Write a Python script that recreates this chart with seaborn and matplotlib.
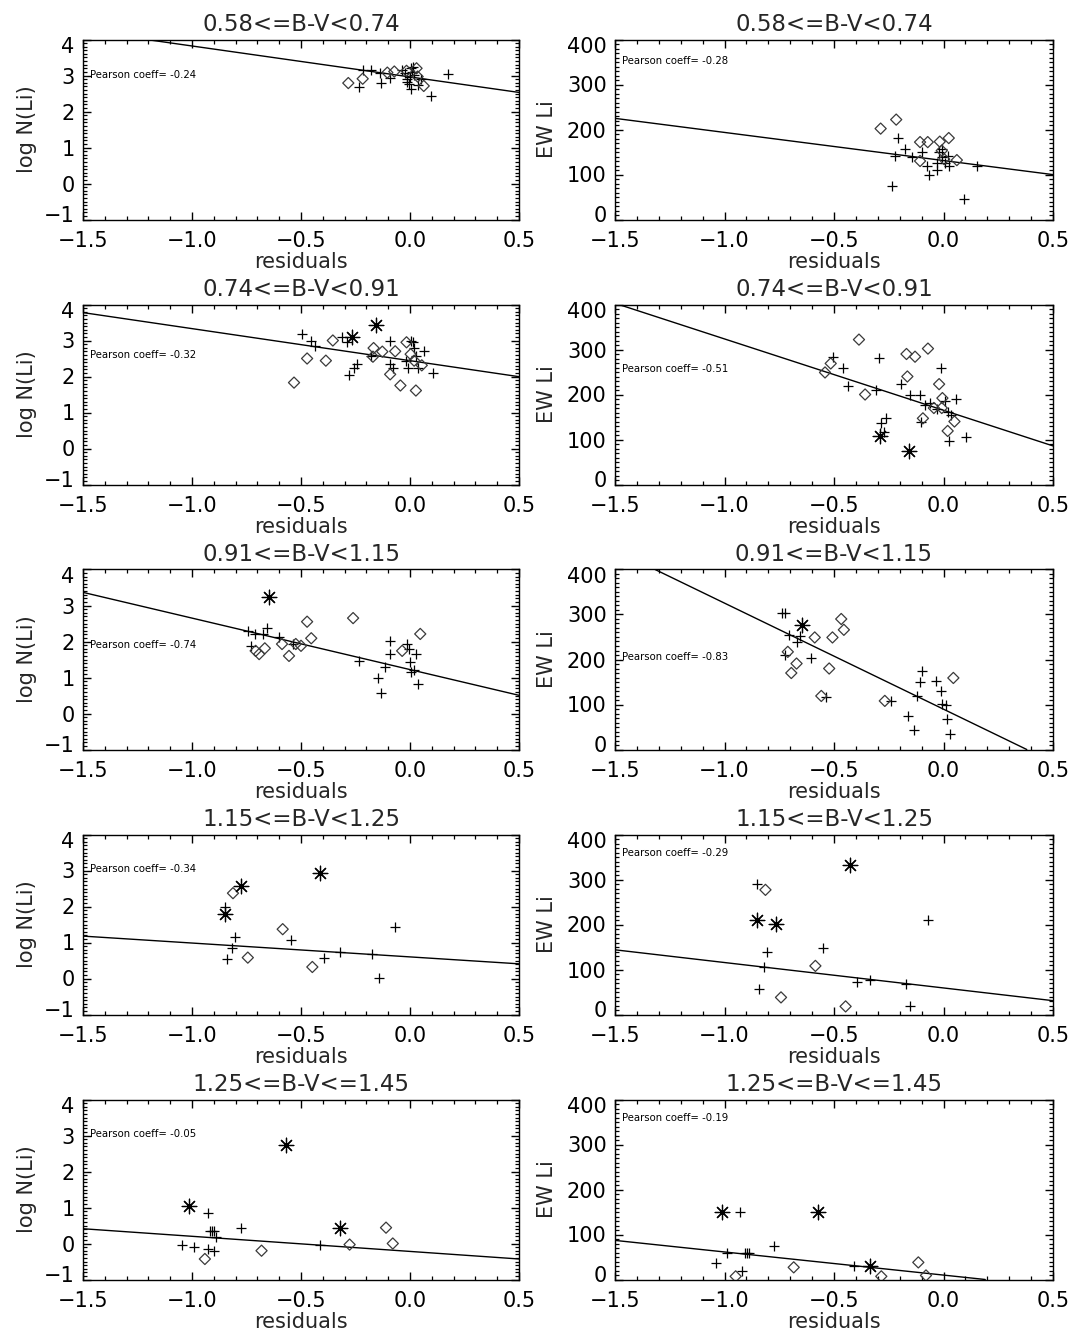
import numpy as np
import pandas as pd
import matplotlib
matplotlib.use("Agg")
import matplotlib.pyplot as plt
import seaborn as sns
from matplotlib.ticker import MultipleLocator
from matplotlib.transforms import ScaledTranslation

# ---------------- data ----------------
bins = ["0.58<=B-V<0.74", "0.74<=B-V<0.91", "0.91<=B-V<1.15",
        "1.15<=B-V<1.25", "1.25<=B-V<=1.45"]

pearson_logn = [-0.24, -0.32, -0.74, -0.34, -0.05]
pearson_ew = [-0.28, -0.51, -0.83, -0.29, -0.19]

fit_logn_intercept = [2.96, 2.44, 1.22, 0.60, -0.22]
fit_logn_slope = [-0.86, -0.89, -1.43, -0.385, -0.42]
fit_ew_intercept = [131.0, 165.0, 89.6, 59.0, 9.8]
fit_ew_slope = [-62.5, -158.5, -235.7, -56.5, -51.4]

logn_ticks = [-1, 0, 1, 2, 3, 4]
ew_ticks = [0, 100, 200, 300, 400]

# bin 1
L1_plus_x = [-0.233, -0.217, -0.178, -0.138, -0.131, -0.091, -0.036, -0.025, -0.013, -0.005,
             0.003, 0.006, 0.016, 0.019, 0.035, 0.050, 0.098, 0.173, -0.016, 0.0, 0.011]
L1_plus_y = [2.69, 3.16, 3.16, 3.06, 2.80, 2.94, 3.16, 3.06, 2.91, 2.76,
             2.63, 3.20, 3.25, 3.02, 2.74, 2.91, 2.44, 3.04, 2.83, 2.97, 3.11]
L1_diam_x = [-0.283, -0.217, -0.104, -0.072, -0.016, 0.030, 0.063, 0.035]
L1_diam_y = [2.79, 2.91, 3.08, 3.11, 3.13, 3.20, 2.71, 2.97]
L1_star_x = []
L1_star_y = []

E1_plus_x = [-0.237, -0.209, -0.221, -0.177, -0.146, -0.099, -0.075, -0.067, -0.031,
             -0.020, -0.008, 0.008, 0.019, 0.027, 0.093, 0.152, -0.028, -0.005]
E1_plus_y = [74, 181, 142, 157, 138, 149, 119, 98, 126, 149, 138, 126, 142, 119, 45, 120, 111, 157]
E1_diam_x = [-0.287, -0.216, -0.107, -0.072, -0.017, 0.024, -0.107, -0.008, 0.061, 0.003]
E1_diam_y = [202, 222, 172, 172, 173, 181, 130, 153, 132, 134]
E1_star_x = []
E1_star_y = []

# bin 2
L2_plus_x = [-0.496, -0.453, -0.437, -0.312, -0.288, -0.280, -0.256, -0.241, -0.091, -0.091,
             -0.079, -0.020, -0.009, 0.003, 0.016, 0.027, 0.035, 0.066, 0.105, -0.178, 0.019]
L2_plus_y = [3.17, 3.00, 2.86, 3.09, 2.95, 2.04, 2.25, 2.36, 3.00, 2.34,
             2.25, 2.44, 2.25, 3.00, 2.95, 2.58, 2.25, 2.72, 2.11, 2.58, 2.79]
L2_diam_x = [-0.532, -0.472, -0.386, -0.354, -0.167, -0.170, -0.127, -0.068, -0.091, -0.044,
             -0.016, 0.003, 0.027, 0.054, 0.019]
L2_diam_y = [1.83, 2.50, 2.44, 3.00, 2.79, 2.55, 2.69, 2.70, 2.06, 1.75,
             2.95, 2.62, 1.61, 2.31, 2.44]
L2_star_x = [-0.264, -0.157]
L2_star_y = [3.09, 3.42]

E2_plus_x = [-0.504, -0.460, -0.436, -0.295, -0.306, -0.287, -0.264, -0.193, -0.154, -0.107, -0.102,
             -0.083, -0.028, -0.013, 0.008, 0.019, 0.024, 0.058, 0.102, -0.271, -0.060, 0.035]
E2_plus_y = [283, 260, 219, 281, 211, 136, 147, 223, 198, 198, 138,
             177, 168, 260, 185, 162, 96, 189, 105, 116, 181, 155]
E2_diam_x = [-0.541, -0.515, -0.386, -0.358, -0.169, -0.165, -0.130, -0.071, -0.094, -0.044,
             -0.020, -0.005, 0.019, 0.050, -0.008]
E2_diam_y = [249, 269, 322, 200, 290, 240, 284, 302, 147, 170, 223, 192, 119, 140, 170]
E2_star_x = [-0.290, -0.158]
E2_star_y = [108, 74]

# bin 3
L3_plus_x = [-0.744, -0.729, -0.713, -0.674, -0.658, -0.603, -0.535, -0.233, -0.146, -0.134,
             -0.115, -0.091, -0.091, -0.013, 0.0, 0.003, 0.019, 0.027, 0.035, -0.005]
L3_plus_y = [2.30, 1.88, 2.21, 2.21, 2.37, 2.12, 1.93, 1.46, 1.00, 0.58,
             1.30, 2.02, 1.65, 1.93, 1.42, 1.14, 1.20, 1.65, 0.81, 1.79]
L3_diam_x = [-0.708, -0.692, -0.666, -0.587, -0.555, -0.524, -0.500, -0.472, -0.453, -0.261,
             -0.036, 0.047]
L3_diam_y = [1.74, 1.65, 1.81, 1.93, 1.60, 1.93, 1.88, 2.55, 2.09, 2.65, 1.74, 2.21]
L3_star_x = [-0.645]
L3_star_y = [3.23]

E3_plus_x = [-0.739, -0.726, -0.726, -0.707, -0.671, -0.656, -0.604, -0.538, -0.240, -0.162,
             -0.133, -0.122, -0.099, -0.107, -0.036, -0.013, -0.008, 0.011, 0.014, 0.030]
E3_plus_y = [304, 304, 209, 254, 239, 253, 204, 116, 108, 74, 44, 119, 174, 151, 153, 131, 101, 98, 68, 35]
E3_diam_x = [-0.711, -0.671, -0.695, -0.588, -0.558, -0.522, -0.507, -0.467, -0.455, -0.268, 0.045]
E3_diam_y = [217, 191, 170, 249, 119, 180, 249, 290, 266, 108, 159]
E3_star_x = [-0.648]
E3_star_y = [277]

# bin 4
L4_plus_x = [-0.847, -0.803, -0.818, -0.839, -0.548, -0.393, -0.319, -0.173, -0.143, -0.071]
L4_plus_y = [1.98, 1.14, 0.86, 0.53, 1.06, 0.58, 0.75, 0.69, 0.02, 1.42]
L4_diam_x = [-0.812, -0.584, -0.744, -0.448]
L4_diam_y = [2.37, 1.37, 0.58, 0.32]
L4_star_x = [-0.850, -0.776, -0.414]
L4_star_y = [1.79, 2.58, 2.93]

E4_plus_x = [-0.852, -0.808, -0.820, -0.844, -0.551, -0.394, -0.334, -0.173, -0.154, -0.072]
E4_plus_y = [289, 138, 106, 57, 147, 72, 76, 68, 18, 210]
E4_diam_x = [-0.813, -0.585, -0.742, -0.447]
E4_diam_y = [277, 108, 38, 18]
E4_star_x = [-0.852, -0.765, -0.425]
E4_star_y = [210, 202, 332]

# bin 5
L5_plus_x = [-1.048, -0.991, -0.928, -0.925, -0.917, -0.906, -0.897, -0.890, -0.897, -0.776, -0.411]
L5_plus_y = [-0.03, -0.10, 0.84, -0.15, 0.34, 0.34, 0.34, 0.19, -0.21, 0.42, -0.03]
L5_diam_x = [-0.941, -0.681, -0.277, -0.110, -0.079]
L5_diam_y = [-0.43, -0.20, -0.03, 0.44, 0.0]
L5_star_x = [-1.012, -0.571, -0.323]
L5_star_y = [1.04, 2.75, 0.44]

E5_plus_x = [-1.040, -0.990, -0.927, -0.918, -0.906, -0.896, -0.886, -0.776, -0.409]
E5_plus_y = [37, 58, 149, 19, 58, 58, 58, 74, 31]
E5_diam_x = [-0.949, -0.684, -0.284, -0.115, -0.080]
E5_diam_y = [7, 27, 7, 38, 9]
E5_star_x = [-1.012, -0.573, -0.334]
E5_star_y = [149, 149, 31]

logn_panels = [
    (L1_plus_x, L1_plus_y, L1_diam_x, L1_diam_y, L1_star_x, L1_star_y),
    (L2_plus_x, L2_plus_y, L2_diam_x, L2_diam_y, L2_star_x, L2_star_y),
    (L3_plus_x, L3_plus_y, L3_diam_x, L3_diam_y, L3_star_x, L3_star_y),
    (L4_plus_x, L4_plus_y, L4_diam_x, L4_diam_y, L4_star_x, L4_star_y),
    (L5_plus_x, L5_plus_y, L5_diam_x, L5_diam_y, L5_star_x, L5_star_y),
]
ew_panels = [
    (E1_plus_x, E1_plus_y, E1_diam_x, E1_diam_y, E1_star_x, E1_star_y),
    (E2_plus_x, E2_plus_y, E2_diam_x, E2_diam_y, E2_star_x, E2_star_y),
    (E3_plus_x, E3_plus_y, E3_diam_x, E3_diam_y, E3_star_x, E3_star_y),
    (E4_plus_x, E4_plus_y, E4_diam_x, E4_diam_y, E4_star_x, E4_star_y),
    (E5_plus_x, E5_plus_y, E5_diam_x, E5_diam_y, E5_star_x, E5_star_y),
]

# layout (annotation heights, in data units)
note_y_logn = [3.0, 2.6, 1.9, 3.05, 3.05]
note_y_ew = [352, 256, 206, 358, 358]

# ---------------- style ----------------
sns.set_theme(style="ticks")
plt.rcParams["font.family"] = ["DejaVu Sans"]
plt.rcParams["axes.edgecolor"] = "black"
plt.rcParams["axes.linewidth"] = 1.0

fig = plt.figure(figsize=(10.7, 13.35), dpi=100)

col_x = [83 / 1070, 615 / 1070]
col_w = [436 / 1070, 438 / 1070]
ax_h = 180 / 1335
row_step = 265 / 1335
row0_bottom = (1335 - 39.5 - 180) / 1335

ASTER = (8, 2, 0)


def draw_panel(ax, pts, intercept, slope, title, ylabel, ylim, yticks, yminor, coeff, note_y, lpad):
    px, py, dx, dy, sx, sy = pts
    sns.scatterplot(x=px, y=py, ax=ax, marker="+", color="black", s=60, linewidth=0.9, zorder=3)
    sns.scatterplot(x=dx, y=dy, ax=ax, marker="D", facecolor="none", edgecolor="#3a3a3a",
                    s=32, linewidth=0.9, zorder=3)
    if len(sx):
        sns.scatterplot(x=sx, y=sy, ax=ax, marker=ASTER, color="black", s=110,
                        linewidth=0.9, zorder=4)
    ax.axline((0.0, intercept), slope=slope, color="black", linewidth=1.0, zorder=2)
    ax.set_xlim(-1.5, 0.5)
    ax.set_ylim(*ylim)
    ax.xaxis.set_major_locator(MultipleLocator(0.5))
    ax.xaxis.set_minor_locator(MultipleLocator(0.1))
    ax.set_yticks(yticks)
    ax.yaxis.set_minor_locator(MultipleLocator(yminor))
    ax.tick_params(which="both", direction="in", top=True, right=True, bottom=True, left=True,
                   colors="black")
    ax.tick_params(which="major", length=6, width=1.0, labelsize=15)
    ax.tick_params(axis="x", which="major", pad=8)
    ax.tick_params(axis="y", which="major", pad=6)
    ax.tick_params(which="minor", length=3, width=0.9)
    ax.set_title(title, fontsize=16.5, pad=6)
    ax.set_xlabel("residuals", fontsize=15, labelpad=1)
    ax.set_ylabel(ylabel, fontsize=15, labelpad=lpad)
    ax.text(-1.47, note_y, f"Pearson coeff= {coeff:.2f}", fontsize=7.3, va="center", ha="left",
            color="black")
    for sp in ax.spines.values():
        sp.set_visible(True)
        sp.set_color("black")
        sp.set_linewidth(1.0)
    # nudge the end labels of the y axis inward, as in the original figure
    ticks = ax.yaxis.get_major_ticks()
    up = ScaledTranslation(0, 5.5 / 100, fig.dpi_scale_trans)
    down = ScaledTranslation(0, -5.5 / 100, fig.dpi_scale_trans)
    ticks[0].label1.set_transform(ticks[0].label1.get_transform() + up)
    ticks[len(yticks) - 1].label1.set_transform(ticks[len(yticks) - 1].label1.get_transform() + down)


for i in range(5):
    bottom = row0_bottom - i * row_step
    axl = fig.add_axes([col_x[0], bottom, col_w[0], ax_h])
    draw_panel(axl, logn_panels[i], fit_logn_intercept[i], fit_logn_slope[i], bins[i],
               "log N(Li)", (-1, 4), logn_ticks, 0.1, pearson_logn[i], note_y_logn[i], 5)
    axr = fig.add_axes([col_x[1], bottom, col_w[1], ax_h])
    draw_panel(axr, ew_panels[i], fit_ew_intercept[i], fit_ew_slope[i], bins[i],
               "EW Li", (0, 400), ew_ticks, 10, pearson_ew[i], note_y_ew[i], 7)

fig.savefig("out.png", dpi=100, facecolor="white")
